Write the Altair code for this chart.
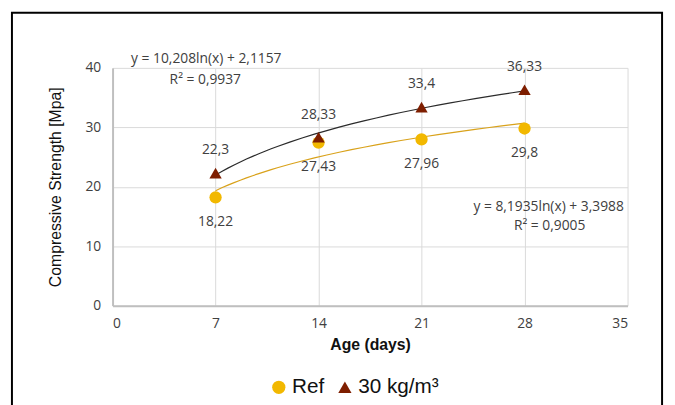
import altair as alt
import pandas as pd

days = [7, 14, 21, 28]
ref_vals = [18.22, 27.43, 27.96, 29.8]
ref_labels = ["18,22", "27,43", "27,96", "29,8"]
fib_vals = [22.3, 28.33, 33.4, 36.33]
fib_labels = ["22,3", "28,33", "33,4", "36,33"]
series_names = ["Ref", "30 kg/m³"]
x_ticks = [0, 7, 14, 21, 28, 35]
y_ticks = [0, 10, 20, 30, 40]
eq_fib = ["y = 10,208ln(x) + 2,1157", "R² = 0,9937"]
eq_ref = ["y = 8,1935ln(x) + 3,3988", "R² = 0,9005"]

GOLD = "#F2B800"
GOLD_LINE = "#D9A21B"
BROWN = "#7E1E00"
DARK = "#2b2b2b"
TXT = "#404040"
FONT = "Open Sans"

rows = []
for d, v, l in zip(days, ref_vals, ref_labels):
    rows.append({"day": d, "value": v, "label": l, "series": series_names[0]})
for d, v, l in zip(days, fib_vals, fib_labels):
    rows.append({"day": d, "value": v, "label": l, "series": series_names[1]})
df = pd.DataFrame(rows)

xs = alt.Scale(domain=[0, 35], nice=False)
ys = alt.Scale(domain=[0, 40], nice=False)

base = alt.Chart(df)

x_enc = alt.X("day:Q", scale=xs, axis=alt.Axis(
    values=x_ticks, title="Age (days)", grid=True, gridColor="#D9D9D9",
    domainColor="#BFBFBF", domainWidth=2, ticks=False, labelPadding=11,
    labelFontSize=14, labelColor=TXT, labelFont=FONT,
    titleFontSize=16, titleFontWeight="bold", titleFont="Liberation Sans",
    titleColor="#111", titlePadding=6))
y_enc = alt.Y("value:Q", scale=ys, axis=alt.Axis(
    values=y_ticks, title="Compressive Strength [Mpa]", grid=True, gridColor="#D9D9D9",
    domainColor="#BFBFBF", domainWidth=2, ticks=False, labelPadding=12,
    labelFontSize=14, labelColor=TXT, labelFont=FONT,
    titleFontSize=16, titleFontWeight="normal", titleFont="Liberation Sans",
    titleColor="#111", titlePadding=22))


def trend(name, col):
    return base.transform_filter(alt.datum.series == name).transform_regression(
        "day", "value", method="log", extent=[7, 28]
    ).mark_line(strokeWidth=1.2, color=col).encode(x=x_enc, y=y_enc)


leg = dict(title=None, orient="none", legendX=158, legendY=313,
           direction="horizontal", labelFontSize=21,
           labelFont="Liberation Sans", labelColor="#111",
           symbolSize=180, columnPadding=10, labelOffset=3,
           symbolStrokeWidth=0)

points = base.mark_point(filled=True, opacity=1, strokeWidth=1).encode(
    x=x_enc, y=y_enc,
    color=alt.Color("series:N", scale=alt.Scale(domain=series_names, range=[GOLD, BROWN]),
                    legend=alt.Legend(**leg)),
    shape=alt.Shape("series:N", scale=alt.Scale(domain=series_names, range=["circle", "triangle-up"]),
                    legend=alt.Legend(**leg)),
    size=alt.value(155),
)

lab_fib = base.transform_filter(alt.datum.series == series_names[1]).mark_text(
    dy=-23, fontSize=14, font=FONT, color=TXT).encode(x=x_enc, y=y_enc, text="label:N")
lab_ref = base.transform_filter(alt.datum.series == series_names[0]).mark_text(
    dy=25, fontSize=14, font=FONT, color=TXT).encode(x=x_enc, y=y_enc, text="label:N")


def note(txt, px, py):
    return alt.Chart(df).transform_filter("datum.day == 7 && datum.series == 'Ref'").mark_text(
        fontSize=14, font=FONT, color=TXT).encode(
        x=alt.value(px), y=alt.value(py), text=alt.value(txt))


notes = [note(eq_fib[0], 95, -9), note(eq_fib[1], 94, 12),
         note(eq_ref[0], 442, 141), note(eq_ref[1], 443, 160)]

frame = alt.Chart(df).transform_filter("datum.day == 7 && datum.series == 'Ref'").mark_rect(
    fill=None, stroke="#000", strokeWidth=2).encode(
    x=alt.value(-102), x2=alt.value(557), y=alt.value(-56), y2=alt.value(345))

chart = alt.layer(frame, trend(series_names[0], GOLD_LINE), trend(series_names[1], DARK),
                  points, lab_fib, lab_ref, *notes).properties(
    width=522, height=241,
    autosize=alt.AutoSizeParams(type="none"),
    padding={"left": 106, "top": 58, "right": 40, "bottom": 98},
).configure_view(stroke=None)

chart.save("out.html", embed_options={"renderer": "svg", "actions": False})
